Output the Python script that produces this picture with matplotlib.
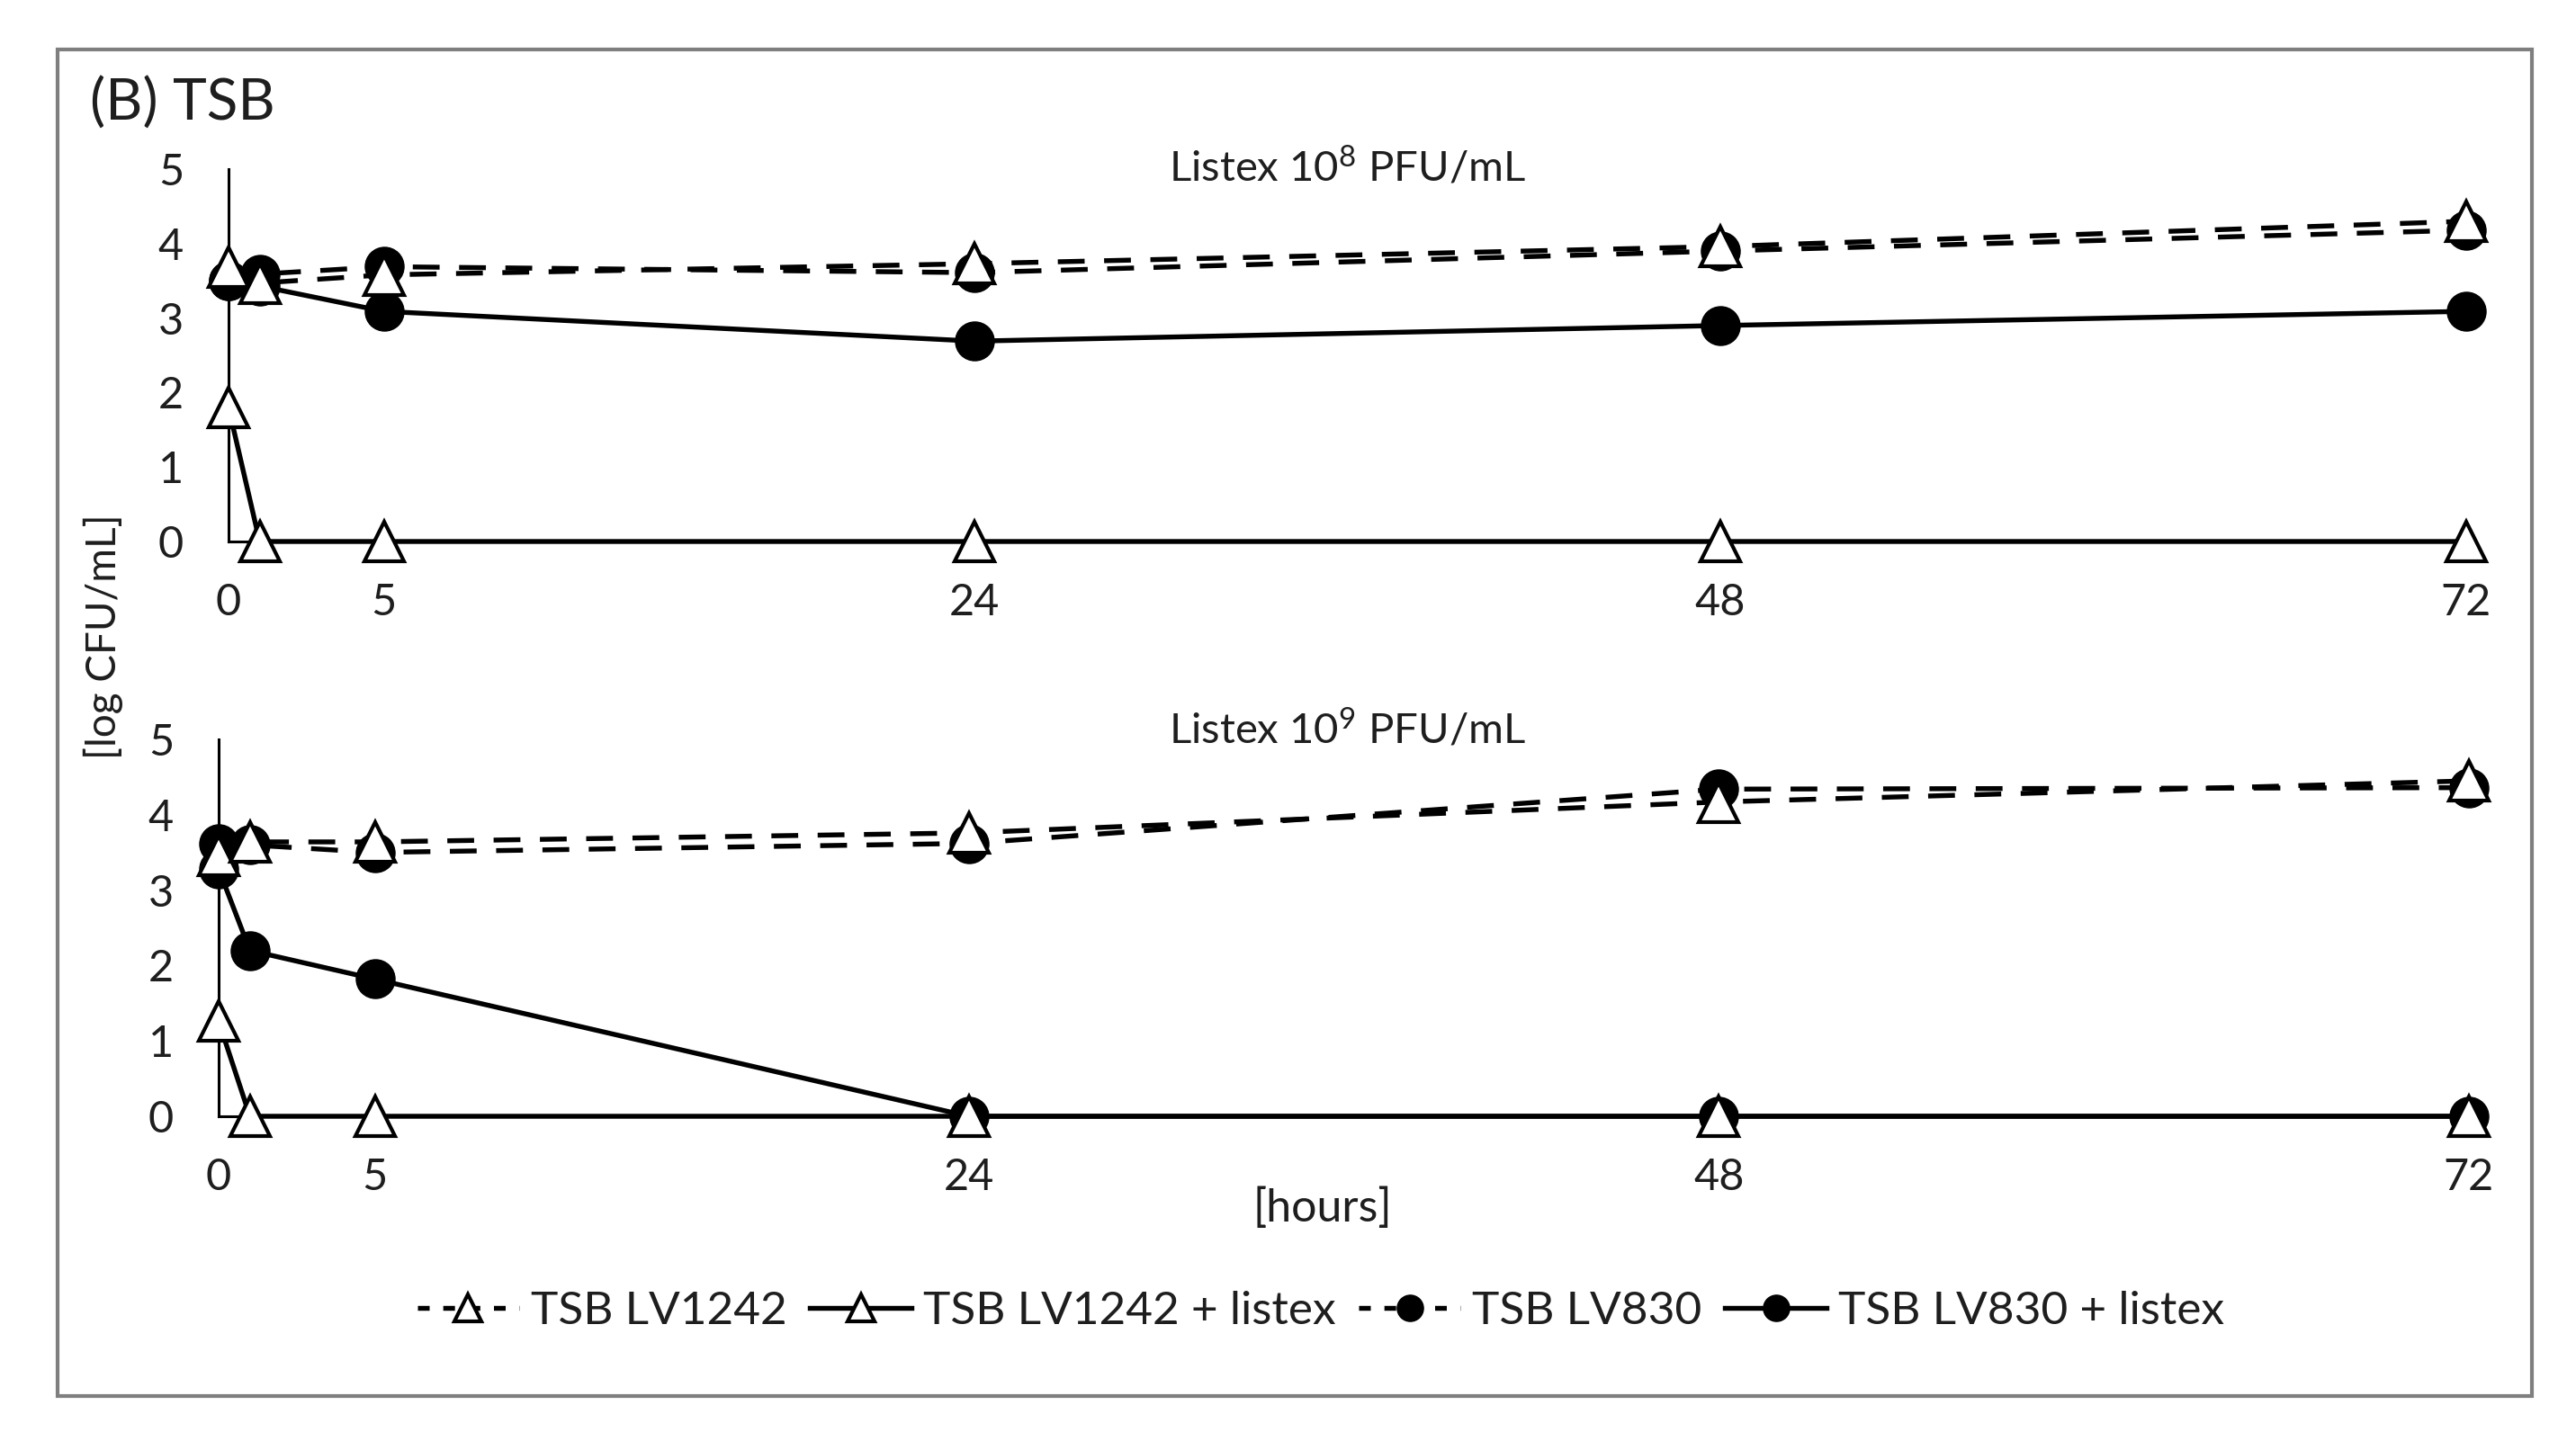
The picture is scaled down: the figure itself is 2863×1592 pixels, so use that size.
import numpy as np
import matplotlib
matplotlib.use("Agg")
import matplotlib.pyplot as plt
from matplotlib.lines import Line2D
from matplotlib.patches import Rectangle

plt.rcParams['font.family'] = ['Lato', 'DejaVu Sans']
plt.rcParams['mathtext.fontset'] = 'custom'
plt.rcParams['mathtext.rm'] = 'Lato'
plt.rcParams['mathtext.it'] = 'Lato'

# data
hours = [0, 1, 5, 24, 48, 72]
xticks = [0, 5, 24, 48, 72]

# Listex 10^8 PFU/mL
lv1242_8 = [3.68, 3.47, 3.58, 3.73, 3.96, 4.30]
lv1242_listex_8 = [1.8, 0, 0, 0, 0, 0]
lv830_8 = [3.50, 3.59, 3.69, 3.61, 3.90, 4.18]
lv830_listex_8 = [3.50, 3.43, 3.09, 2.69, 2.90, 3.09]

# Listex 10^9 PFU/mL
lv1242_9 = [3.46, 3.64, 3.64, 3.76, 4.17, 4.45]
lv1242_listex_9 = [1.26, 0, 0, 0, 0, 0]
lv830_9 = [3.62, 3.60, 3.50, 3.62, 4.34, 4.36]
lv830_listex_9 = [3.28, 2.20, 1.82, 0, 0, 0]

labels = ['TSB LV1242', 'TSB LV1242 + listex', 'TSB LV830', 'TSB LV830 + listex']

W, H = 2863, 1592
fig = plt.figure(figsize=(W / 100, H / 100), dpi=100)

LW = 3.9
DASH = (5.5, 4)
MS = 31
FS = 35
TXT = '#1e1e1e'


def px(x0, y0, x1, y1):
    # pixel box -> figure fraction rect
    return [x0 / W, 1 - y1 / H, (x1 - x0) / W, (y1 - y0) / H]


def panel(rect, series, title, ty):
    ax = fig.add_axes(rect)
    a, b, c, d = series
    # circles first, triangles on top
    ax.plot(hours, c, ls='--', dashes=DASH, color='black', lw=LW, marker='o',
            ms=MS, mfc='black', mec='black', clip_on=False, zorder=3)
    ax.plot(hours, d, ls='-', color='black', lw=LW, marker='o',
            ms=MS, mfc='black', mec='black', clip_on=False, zorder=4)
    ax.plot(hours, a, ls='--', dashes=DASH, color='black', lw=LW, marker='^',
            ms=MS, mfc='white', mec='black', mew=3, clip_on=False, zorder=5)
    ax.plot(hours, b, ls='-', color='black', lw=LW, marker='^',
            ms=MS, mfc='white', mec='black', mew=3, clip_on=False, zorder=6)
    ax.set_xlim(0, 72)
    ax.set_ylim(0, 5)
    ax.set_xticks(xticks)
    ax.set_yticks(range(6))
    ax.tick_params(length=0, labelsize=FS, colors=TXT)
    ax.tick_params(axis='x', pad=33)
    ax.tick_params(axis='y', pad=36)
    for s in ['top', 'right']:
        ax.spines[s].set_visible(False)
    ax.spines['left'].set_linewidth(2.2)
    ax.spines['bottom'].set_linewidth(2.2)
    ax.patch.set_alpha(0)
    fig.text(1497 / W, 1 - ty / H, title, ha='center', va='center', fontsize=34, color=TXT)
    return ax


panel(px(254, 188, 2741, 602), (lv1242_8, lv1242_listex_8, lv830_8, lv830_listex_8),
      r'Listex 10$^{8}$ PFU/mL', 186)
panel(px(243, 822, 2744, 1241), (lv1242_9, lv1242_listex_9, lv830_9, lv830_listex_9),
      r'Listex 10$^{9}$ PFU/mL', 811)

fig.text(100 / W, 1 - 115 / H, '(B) TSB', ha='left', va='center', fontsize=46, color=TXT)
fig.text(1470 / W, 1 - 1344 / H, '[hours]', ha='center', va='center', fontsize=36, color=TXT)
fig.text(115 / W, 1 - 708 / H, '[log CFU/mL]', ha='center', va='center', rotation=90,
         fontsize=33, color=TXT)

handles = [
    Line2D([], [], ls='--', dashes=(2.4, 2.8), color='black', lw=LW, marker='^', ms=21,
           mfc='white', mec='black', mew=3),
    Line2D([], [], ls='-', color='black', lw=LW, marker='^', ms=21, mfc='white', mec='black', mew=3),
    Line2D([], [], ls='--', dashes=(2.4, 2.8), color='black', lw=LW, marker='o', ms=21,
           mfc='black', mec='black'),
    Line2D([], [], ls='-', color='black', lw=LW, marker='o', ms=21, mfc='black', mec='black'),
]
fig.legend(handles, labels, loc='center', bbox_to_anchor=(1468 / W, 1 - 1458 / H), ncol=4,
           frameon=False, fontsize=37, handlelength=2.2, handletextpad=0.25, columnspacing=0.5,
           labelcolor=TXT)

fig.patches.append(Rectangle((64 / W, 1 - 1552 / H), (2814 - 64) / W, (1552 - 55) / H,
                             transform=fig.transFigure, fill=False, edgecolor='#7f7f7f', lw=3))

fig.savefig('out.png', dpi=100, facecolor='white')
